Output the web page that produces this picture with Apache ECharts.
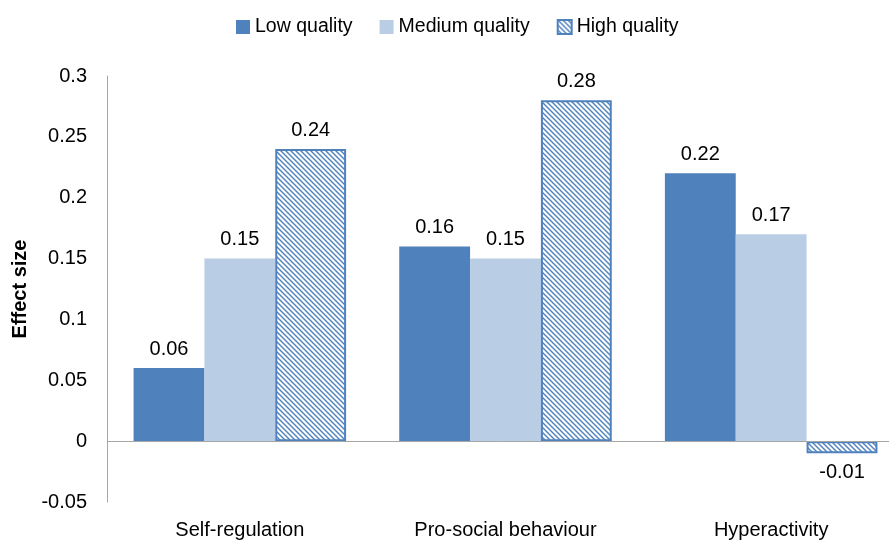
<!DOCTYPE html>
<html>
<head>
<meta charset="utf-8">
<script src="https://cdn.jsdelivr.net/npm/echarts@6/dist/echarts.min.js"></script>
<style>
	html, body { margin: 0; padding: 0; background: #fff; }
	#chart { width: 889px; height: 544px; }
</style>
</head>
<body>
<div id="chart"></div>
<script>
// Chart data
let categories = ['Self-regulation', 'Pro-social behaviour', 'Hyperactivity'];
let lowQuality = [0.06, 0.16, 0.22];
let mediumQuality = [0.15, 0.15, 0.17];
let highQuality = [0.24, 0.28, -0.01];
let yTicks = { min: -0.05, max: 0.3, step: 0.05 };

let blue = '#4F81BD';
let lightBlue = '#B9CDE5';

// Diagonal hatch for the high quality bars
function makeHatch() {
	let c = document.createElement('canvas');
	c.width = 5;
	c.height = 5;
	let cx = c.getContext('2d');
	cx.fillStyle = '#fff';
	cx.fillRect(0, 0, 5, 5);
	cx.strokeStyle = blue;
	cx.lineWidth = 1.4;
	for (let k = -1; k <= 1; k++) {
		cx.beginPath();
		cx.moveTo(-5 + k * 5, -5);
		cx.lineTo(10 + k * 5, 10);
		cx.stroke();
	}
	return c;
}
let hatch = { image: makeHatch(), repeat: 'repeat' };

let font = 'Arial, "Liberation Sans", sans-serif';
let fs = 20;

function label(pos) {
	return {
		show: true,
		position: pos || 'top',
		distance: 9,
		fontSize: fs,
		fontFamily: font,
		color: '#000',
		formatter: function (p) { return String(p.value); }
	};
}

let highData = highQuality.map(function (v) {
	if (v < 0) {
		return { value: v, label: label('bottom') };
	}
	return v;
});

let chart = echarts.init(document.getElementById('chart'));
chart.setOption({
	animation: false,
	textStyle: { fontFamily: font },
	legend: {
		top: 12,
		left: 231,
		itemWidth: 14,
		itemHeight: 14,
		itemGap: 27,
		textStyle: { fontSize: 19.5, color: '#000', fontFamily: font },
		data: [
			{ name: 'Low quality', icon: 'rect' },
			{ name: 'Medium quality', icon: 'rect' },
			{ name: 'High quality', icon: 'rect' }
		]
	},
	grid: { left: 107, right: -15, top: 76, bottom: 42, outerBoundsMode: 'none', containLabel: false },
	xAxis: {
		type: 'category',
		data: categories,
		axisLine: { show: false, onZero: false },
		axisTick: { show: false },
		axisLabel: { fontSize: fs, color: '#000', margin: 18, fontFamily: font }
	},
	yAxis: {
		type: 'value',
		min: yTicks.min,
		max: yTicks.max,
		interval: yTicks.step,
		name: 'Effect size',
		nameLocation: 'middle',
		nameGap: 74,
		nameRotate: 90,
		nameTextStyle: { fontSize: fs, fontWeight: 'bold', color: '#000', fontFamily: font },
		axisLine: { show: true, lineStyle: { color: '#A6A6A6', width: 1 } },
		axisTick: { show: false },
		splitLine: { show: false },
		axisLabel: {
			fontSize: fs, color: '#000', margin: 20, fontFamily: font,
			formatter: function (v) { return String(Math.round(v * 100) / 100); }
		}
	},
	series: [
		{
			name: 'Low quality',
			type: 'bar',
			data: lowQuality,
			barGap: '0%',
			barCategoryGap: '20%',
			itemStyle: { color: blue },
			label: label(),
			markLine: {
				silent: true,
				symbol: 'none',
				label: { show: false },
				lineStyle: { color: '#A6A6A6', type: 'solid', width: 1 },
				data: [{ yAxis: 0 }]
			}
		},
		{
			name: 'Medium quality',
			type: 'bar',
			data: mediumQuality,
			barGap: '0%',
			barCategoryGap: '20%',
			itemStyle: { color: lightBlue },
			label: label()
		},
		{
			name: 'High quality',
			type: 'bar',
			data: highData,
			barGap: '0%',
			barCategoryGap: '20%',
			itemStyle: { color: hatch, borderColor: blue, borderWidth: 2 },
			label: label()
		}
	]
});
</script>
</body>
</html>
